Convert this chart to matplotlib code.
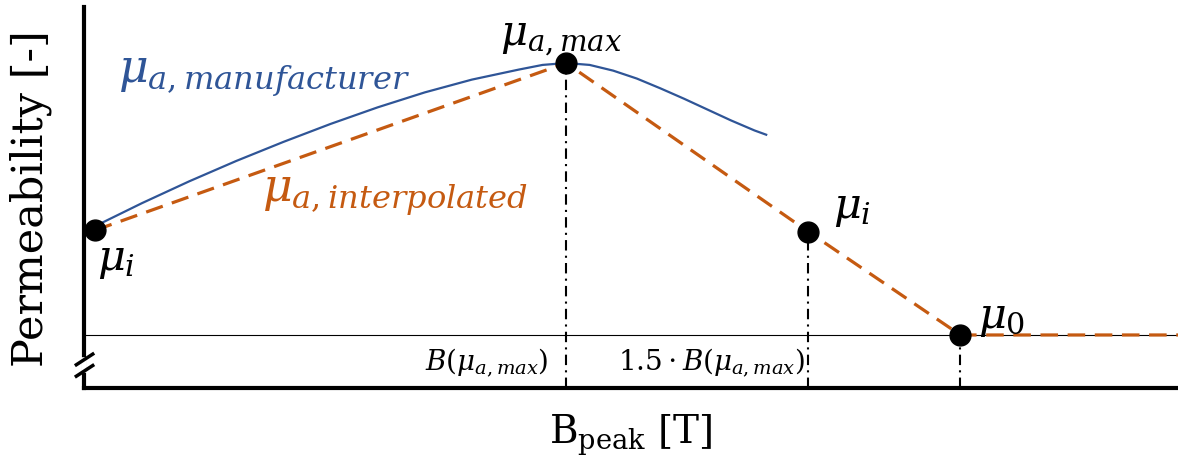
import matplotlib
matplotlib.use("Agg")
import matplotlib.pyplot as plt
from matplotlib.lines import Line2D

plt.rcParams['mathtext.fontset'] = 'dejavuserif'

# ---- data (normalised: B in units of B(mu_a,max), mu in units of mu_a,max with mu_0 = 0) ----
manuf_B = [0.0, 0.1, 0.2, 0.3, 0.4, 0.5, 0.6, 0.7, 0.8, 0.9, 0.95, 1.0,
           1.05, 1.1, 1.15, 1.2, 1.25, 1.3, 1.35, 1.4, 1.427]
manuf_mu = [0.40, 0.485, 0.565, 0.640, 0.710, 0.776, 0.837, 0.892, 0.939, 0.976, 0.993, 1.0,
            0.993, 0.972, 0.943, 0.907, 0.869, 0.829, 0.789, 0.752, 0.735]

interp_B = [0.0, 1.0, 1.514, 1.837, 2.30]
interp_mu = [0.385, 1.0, 0.380, 0.0, 0.0]

key_B = [0.0, 1.0, 1.514, 1.837]
key_mu = [0.385, 1.0, 0.380, 0.0]
key_labels = [r'$\mu_i$', r'$\mu_{a,max}$', r'$\mu_i$', r'$\mu_0$']

mu_0 = 0.0
xlim = (-0.0234, 2.299)
ylim = (-0.195, 1.206)

BLUE = '#2F5597'
ORANGE = '#C55A11'

fig = plt.figure(figsize=(11.78, 4.65), dpi=100)
ax = fig.add_axes([84 / 1178, (465 - 388) / 465, 1 - 84 / 1178, (388 - 7) / 465])
ax.set_xlim(*xlim)
ax.set_ylim(*ylim)

for s in ['top', 'right']:
    ax.spines[s].set_visible(False)
for s in ['left', 'bottom']:
    ax.spines[s].set_linewidth(3.0)
    ax.spines[s].set_capstyle('projecting')
ax.set_xticks([])
ax.set_yticks([])

# mu_0 reference line
ax.axhline(mu_0, color='black', lw=0.8, zorder=1)

# vertical dash-dot guide lines
for b, m in zip(key_B[1:], key_mu[1:]):
    ax.plot([b, b], [ylim[0], m], color='black', lw=1.5,
            dashes=(5, 2.5, 1, 2.5), zorder=2)

# curves
ax.plot(manuf_B, manuf_mu, color=BLUE, lw=1.6, zorder=3, solid_capstyle='butt',
        solid_joinstyle='round')
ax.plot(interp_B, interp_mu, color=ORANGE, lw=2.3, dashes=(5.5, 3.0), zorder=3)

# key points
ax.plot(key_B, key_mu, 'o', color='black', ms=15, zorder=5, clip_on=False)

# point labels
offsets = [(1.4, -21.6), (-47.5, 18), (18, 17.3), (13, 12.2)]
sizes = [31, 30, 31, 31]
for b, m, lab, off, fs in zip(key_B, key_mu, key_labels, offsets, sizes):
    ax.annotate(lab, (b, m), xytext=off, textcoords='offset points',
                fontsize=fs, color='black', ha='left', va='center')

# curve labels
ax.annotate(r'$\mu_{a,manufacturer}$', (manuf_B[0], manuf_mu[0]), xytext=(16.6, 108),
            textcoords='offset points', fontsize=33, color=BLUE, ha='left', va='center')
ax.annotate(r'$\mu_{a,interpolated}$', (interp_B[0], interp_mu[0]), xytext=(120, 25),
            textcoords='offset points', fontsize=33, color=ORANGE, ha='left', va='center')

# B labels
ax.annotate(r'$B(\mu_{a,max})$', (key_B[1], ylim[0]), xytext=(-13, 18.7),
            textcoords='offset points', fontsize=20, ha='right', va='center')
ax.annotate(r'$1.5\cdot B(\mu_{a,max})$', (key_B[2], ylim[0]), xytext=(-2.2, 18.7),
            textcoords='offset points', fontsize=20, ha='right', va='center')

# axis labels
fig.text(31 / 1178, 1 - 199 / 465, 'Permeability [-]', fontsize=31, family='DejaVu Serif',
         rotation=90, ha='center', va='center')
fig.text(631 / 1178, 1 - 435 / 465, r'B$_{\mathregular{peak}}$ [T]', fontsize=28,
         family='DejaVu Serif', ha='center', va='center')

# axis break marks
trans = ax.transAxes
ax.add_line(Line2D([0.0, 0.0], [0.047, 0.073], color='white', lw=4, transform=trans,
                   clip_on=False, zorder=6))
for y0 in [0.045, 0.075]:
    ax.add_line(Line2D([-0.007, 0.008], [y0 - 0.014, y0 + 0.014], color='black', lw=2.5,
                       transform=trans, clip_on=False, zorder=7))

fig.savefig('out.png', dpi=100)
